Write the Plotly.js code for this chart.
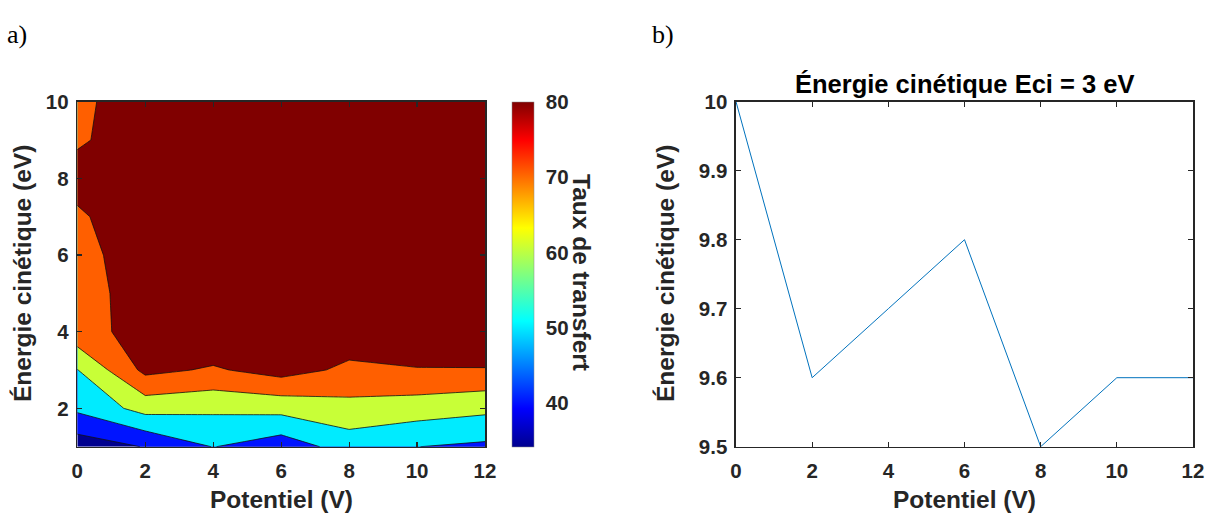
<!DOCTYPE html>
<html><head><meta charset="utf-8">
<script src="https://cdn.plot.ly/plotly-3.0.1.min.js"></script>
<style>html,body{margin:0;padding:0;background:#fff}#chart{width:1213px;height:515px}</style>
</head><body><div id="chart"></div>
<script>
// ---------- data (a) contour ----------
const potentiel = [0, 2, 4, 6, 8, 10, 12];
const energieCin = [1, 2, 3, 4, 5, 6, 7, 8, 9, 10];
// rows follow energieCin, columns follow potentiel
const tauxTransfert = [
  [34.2, 40.5, 50.3, 44.1, 54.5, 50.1, 48.1],
  [52.0, 63.7, 61.9, 63.2, 66.7, 64.9, 62.4],
  [59.7, 82.5, 78.8, 83.9, 78.0, 79.5, 79.0],
  [76.6, 83.3, 88.8, 88.0, 85.7, 86.6, 95.0],
  [77.5, 82.7, 90.0, 90.0, 90.0, 90.0, 92.0],
  [78.5, 82.4, 91.0, 91.0, 91.0, 91.0, 92.0],
  [79.5, 82.2, 91.0, 92.0, 92.0, 92.0, 92.0],
  [81.2, 85.0, 92.0, 92.0, 92.0, 92.0, 92.0],
  [79.6, 81.6, 90.0, 92.0, 92.0, 92.0, 92.0],
  [78.0, 85.0, 90.0, 92.0, 92.0, 92.0, 92.0]
];
const contourLevels = [40, 50, 60, 70, 80];
const colorbarRange = [34.2, 80];
const colorbarTicks = [40, 50, 60, 70, 80];
const xTicksA = [0, 2, 4, 6, 8, 10, 12];
const yTicksA = [2, 4, 6, 8, 10];

// ---------- data (b) line ----------
const potentielB = [0, 2, 4, 6, 8, 10, 12];
const energieB = [10, 9.6, 9.7, 9.8, 9.5, 9.6, 9.6];
const yTicksB = [9.5, 9.6, 9.7, 9.8, 9.9, 10];
const yTickTextB = ['9.5', '9.6', '9.7', '9.8', '9.9', '10'];

// ---------- styling ----------
const W = 1213, H = 515;
const px = v => v / W;
const py = v => 1 - v / H;
const axCol = '#262626';
const bold = (size, col) => ({family: 'Liberation Sans, Arial, sans-serif', size: size, color: col || axCol, weight: 'bold'});
const TICK = 20.5, LAB = 24.5;

const jet = [[0, 'rgb(0,0,143)'], [0.111, 'rgb(0,0,255)'], [0.365, 'rgb(0,255,255)'],
             [0.635, 'rgb(255,255,0)'], [0.889, 'rgb(255,0,0)'], [1, 'rgb(128,0,0)']];
const bandCols = ['rgb(0,0,143)', 'rgb(0,20,255)', 'rgb(0,235,255)', 'rgb(200,255,55)', 'rgb(255,95,0)', 'rgb(128,0,0)'];
const bandScale = [];
const edges = [0, 0.1, 0.3, 0.5, 0.7, 0.9, 1];
for (let i = 0; i < bandCols.length; i++) {
  bandScale.push([edges[i], bandCols[i]]);
  bandScale.push([edges[i + 1], bandCols[i]]);
}

const contourTrace = {
  type: 'contour', x: potentiel, y: energieCin, z: tauxTransfert,
  xaxis: 'x', yaxis: 'y',
  autocontour: false,
  contours: {start: contourLevels[0], end: contourLevels[contourLevels.length - 1],
             size: contourLevels[1] - contourLevels[0], coloring: 'fill', showlines: true},
  colorscale: bandScale, showscale: false,
  line: {color: '#111', width: 0.8, smoothing: 0},
  hoverinfo: 'skip'
};

const colorbarTrace = {
  type: 'scatter', mode: 'markers', x: [-50], y: [-50], xaxis: 'x', yaxis: 'y',
  hoverinfo: 'skip', showlegend: false,
  marker: {
    size: 1, color: [colorbarRange[0]], cmin: colorbarRange[0], cmax: colorbarRange[1],
    colorscale: jet, showscale: true,
    colorbar: {
      x: px(511.5), xanchor: 'left', xpad: 0, ypad: 0,
      y: py(446.7), yanchor: 'bottom', len: 345, lenmode: 'pixels',
      thickness: 22, thicknessmode: 'pixels',
      outlinewidth: 0.5, outlinecolor: '#888',
      tickvals: colorbarTicks, ticks: 'outside', ticklen: 8, tickcolor: 'rgba(0,0,0,0)',
      tickfont: bold(TICK)
    }
  }
};

const lineTrace = {
  type: 'scatter', mode: 'lines', x: potentielB, y: energieB, xaxis: 'x2', yaxis: 'y2',
  line: {color: '#0072BD', width: 1}, showlegend: false
};

const axisCommon = {
  showline: true, linecolor: axCol, linewidth: 1.6, mirror: 'ticks',
  ticks: 'inside', ticklen: 5, tickwidth: 1.2, tickcolor: axCol,
  showgrid: false, zeroline: false, fixedrange: true, tickfont: bold(TICK)
};

const layout = {
  width: W, height: H, margin: {l: 0, r: 0, t: 0, b: 0},
  paper_bgcolor: '#fff', plot_bgcolor: '#fff', showlegend: false,
  xaxis: Object.assign({}, axisCommon, {domain: [px(77.3), px(485)], range: [0, 12], tickvals: xTicksA, anchor: 'y', ticklabelstandoff: 5}),
  yaxis: Object.assign({}, axisCommon, {domain: [py(446.7), py(101.7)], range: [1, 10], tickvals: yTicksA, anchor: 'x', ticklabelstandoff: 3}),
  xaxis2: Object.assign({}, axisCommon, {domain: [px(736), px(1193)], range: [0, 12], tickvals: xTicksA, anchor: 'y2', ticklabelstandoff: 5}),
  yaxis2: Object.assign({}, axisCommon, {domain: [py(446.7), py(101.7)], range: [9.5, 10], tickvals: yTicksB, ticktext: yTickTextB, anchor: 'x2', ticklabelstandoff: 3}),
  annotations: [
    {text: 'a)', xref: 'paper', yref: 'paper', x: px(5), y: py(35), xanchor: 'left', yanchor: 'middle', showarrow: false,
     font: {family: 'Liberation Serif, Times New Roman, serif', size: 26, color: '#000'}},
    {text: 'b)', xref: 'paper', yref: 'paper', x: px(650), y: py(35), xanchor: 'left', yanchor: 'middle', showarrow: false,
     font: {family: 'Liberation Serif, Times New Roman, serif', size: 26, color: '#000'}},
    {text: 'Énergie cinétique (eV)', xref: 'paper', yref: 'paper', x: px(22), y: py(274), textangle: -90,
     xanchor: 'center', yanchor: 'middle', showarrow: false, font: bold(LAB)},
    {text: 'Potentiel (V)', xref: 'paper', yref: 'paper', x: px(281), y: py(499),
     xanchor: 'center', yanchor: 'middle', showarrow: false, font: bold(LAB)},
    {text: 'Taux de transfert', xref: 'paper', yref: 'paper', x: px(582), y: py(272), textangle: 90,
     xanchor: 'center', yanchor: 'middle', showarrow: false, font: bold(LAB)},
    {text: 'Énergie cinétique (eV)', xref: 'paper', yref: 'paper', x: px(665), y: py(274), textangle: -90,
     xanchor: 'center', yanchor: 'middle', showarrow: false, font: bold(LAB)},
    {text: 'Potentiel (V)', xref: 'paper', yref: 'paper', x: px(964), y: py(499),
     xanchor: 'center', yanchor: 'middle', showarrow: false, font: bold(LAB)},
    {text: 'Énergie cinétique Eci = 3 eV', xref: 'paper', yref: 'paper', x: px(964), y: py(84),
     xanchor: 'center', yanchor: 'middle', showarrow: false, font: bold(25.5, '#000')}
  ]
};

Plotly.newPlot('chart', [contourTrace, colorbarTrace, lineTrace], layout, {displayModeBar: false, staticPlot: true});
</script></body></html>
